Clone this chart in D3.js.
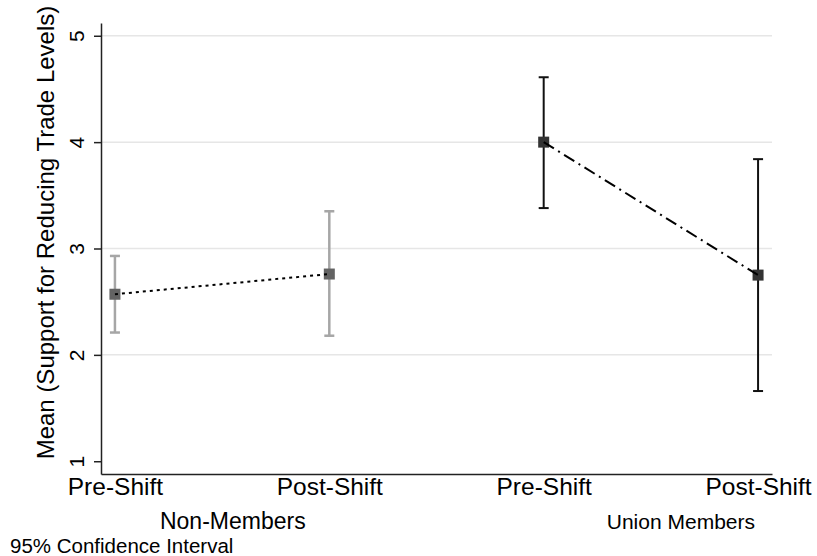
<!DOCTYPE html>
<html>
<head>
<meta charset="utf-8">
<script src="https://cdn.jsdelivr.net/npm/d3@7"></script>
<style>
  body { margin: 0; background: #fff; }
  text { font-family: "Liberation Sans", Arial, sans-serif; fill: #000; }
</style>
</head>
<body>
<script>
const width = 817;
const height = 556;

// data
const groups = ["Non-Members", "Union Members"];
const periods = ["Pre-Shift", "Post-Shift"];
const nonMean = [2.57, 2.76];
const nonLow = [2.21, 2.18];
const nonHigh = [2.93, 3.35];
const unionMean = [4.00, 2.75];
const unionLow = [3.38, 1.66];
const unionHigh = [4.61, 3.84];
const yTicks = [1, 2, 3, 4, 5];
const gridTicks = [2, 3, 4, 5];

const font = '"Liberation Sans", Arial, sans-serif';

// one row per plotted point, index 0..3 along the x axis
const rows = [];
groups.forEach(function (g, gi) {
  periods.forEach(function (p, pi) {
    const mean = gi === 0 ? nonMean : unionMean;
    const lo = gi === 0 ? nonLow : unionLow;
    const hi = gi === 0 ? nonHigh : unionHigh;
    rows.push({group: g, gi: gi, period: p, idx: gi * 2 + pi, mean: mean[pi], lo: lo[pi], hi: hi[pi]});
  });
});

const x = d3.scaleLinear().domain([-0.065, 3.065]).range([101, 772]);
const y = d3.scaleLinear().domain([0.88, 5.12]).range([474, 23]);

const svg = d3.select("body")
  .append("svg")
  .attr("width", width)
  .attr("height", height);

// gridlines
svg.append("g")
  .selectAll("line")
  .data(gridTicks)
  .enter()
  .append("line")
  .attr("x1", x(-0.065))
  .attr("x2", x(3.065))
  .attr("y1", function (d) { return y(d); })
  .attr("y2", function (d) { return y(d); })
  .attr("stroke", "#e6e6e6")
  .attr("stroke-width", 1.5);

// y axis
const yAxis = svg.append("g")
  .attr("transform", "translate(" + x(-0.065) + ",0)")
  .call(d3.axisLeft(y).tickValues(yTicks).tickSize(7).tickSizeOuter(0).tickFormat(d3.format("d")));
yAxis.select(".domain").attr("stroke", "#222").attr("stroke-width", 1.5);
yAxis.selectAll(".tick line").attr("stroke", "#222").attr("stroke-width", 1.5);
yAxis.selectAll(".tick text")
  .attr("x", null).attr("dy", null)
  .attr("transform", "translate(-17,0) rotate(-90)")
  .attr("text-anchor", "middle")
  .style("font-family", font)
  .style("font-size", "21px")
  .attr("fill", "#000");

// x axis
const xAxis = svg.append("g")
  .attr("transform", "translate(0," + y(0.88) + ")")
  .call(d3.axisBottom(x).tickValues(rows.map(function (d) { return d.idx; }))
    .tickSize(0).tickSizeOuter(0)
    .tickFormat(function (d) { return rows[d].period; }));
xAxis.select(".domain").attr("stroke", "#222").attr("stroke-width", 1.5);
xAxis.selectAll(".tick text")
  .attr("y", 21).attr("dy", null)
  .style("font-family", font)
  .style("font-size", "24.5px")
  .attr("fill", "#000");

// group labels
const groupPos = [0.55, 2.64];
const groupSize = ["23px", "21px"];
svg.append("g")
  .selectAll("text")
  .data(groups)
  .enter()
  .append("text")
  .text(function (d) { return d; })
  .attr("x", function (d, i) { return x(groupPos[i]); })
  .attr("y", 529)
  .attr("text-anchor", "middle")
  .style("font-size", function (d, i) { return groupSize[i]; });

// note
svg.append("text")
  .text("95% Confidence Interval")
  .attr("x", 10)
  .attr("y", 553)
  .style("font-size", "20.5px");

// y axis title
svg.append("text")
  .text("Mean (Support for Reducing Trade Levels)")
  .attr("transform", "translate(54," + y(3.15) + ") rotate(-90)")
  .attr("text-anchor", "middle")
  .style("font-size", "24px");

const barColor = ["#a6a6a6", "#111111"];
const markColor = ["#636363", "#333333"];
const capHalf = 5;

// error bars
const bars = svg.append("g")
  .selectAll("g")
  .data(rows)
  .enter()
  .append("g")
  .attr("stroke", function (d) { return barColor[d.gi]; })
  .attr("stroke-width", function (d) { return d.gi === 0 ? 2.5 : 2; });
bars.append("line")
  .attr("x1", function (d) { return x(d.idx); })
  .attr("x2", function (d) { return x(d.idx); })
  .attr("y1", function (d) { return y(d.lo); })
  .attr("y2", function (d) { return y(d.hi); });
bars.append("line")
  .attr("x1", function (d) { return x(d.idx) - capHalf; })
  .attr("x2", function (d) { return x(d.idx) + capHalf; })
  .attr("y1", function (d) { return y(d.lo); })
  .attr("y2", function (d) { return y(d.lo); });
bars.append("line")
  .attr("x1", function (d) { return x(d.idx) - capHalf; })
  .attr("x2", function (d) { return x(d.idx) + capHalf; })
  .attr("y1", function (d) { return y(d.hi); })
  .attr("y2", function (d) { return y(d.hi); });

// markers
const size = 11;
svg.append("g")
  .selectAll("rect")
  .data(rows)
  .enter()
  .append("rect")
  .attr("x", function (d) { return x(d.idx) - size / 2; })
  .attr("y", function (d) { return y(d.mean) - size / 2; })
  .attr("width", size)
  .attr("height", size)
  .attr("fill", function (d) { return markColor[d.gi]; });

// connecting lines
const lineFunc = d3.line()
  .x(function (d) { return x(d.idx); })
  .y(function (d) { return y(d.mean); });
const dashes = ["3,4", "12,5,2,5"];
groups.forEach(function (g, gi) {
  svg.append("path")
    .attr("d", lineFunc(rows.filter(function (d) { return d.gi === gi; })))
    .attr("stroke", "#000")
    .attr("stroke-width", 2)
    .attr("stroke-dasharray", dashes[gi])
    .attr("fill", "none");
});
</script>
</body>
</html>
